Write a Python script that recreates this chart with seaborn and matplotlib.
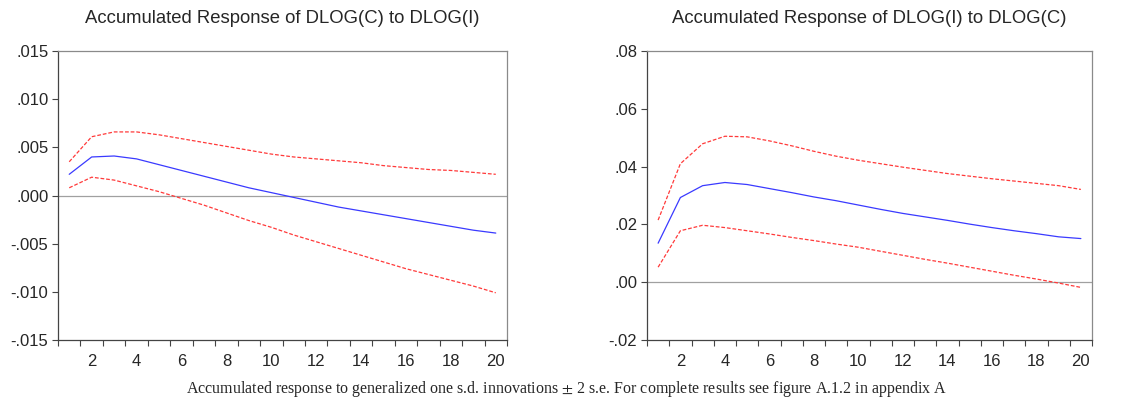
import numpy as np
import pandas as pd
import matplotlib
matplotlib.use("Agg")
import matplotlib.pyplot as plt
from matplotlib.ticker import FuncFormatter, FixedLocator
import seaborn as sns

periods = list(range(1, 21))

# Accumulated response of DLOG(C) to DLOG(I)
c_resp = [0.0022, 0.0040, 0.0041, 0.0038, 0.0032, 0.0026, 0.0020, 0.0014, 0.0008, 0.0003,
          -0.0002, -0.0007, -0.0012, -0.0016, -0.0020, -0.0024, -0.0028, -0.0032, -0.0036, -0.0039]
c_upper = [0.0035, 0.0061, 0.0066, 0.0066, 0.0063, 0.0059, 0.0055, 0.0051, 0.0047, 0.0043,
           0.0040, 0.0038, 0.0036, 0.0034, 0.0031, 0.0029, 0.0027, 0.0026, 0.0024, 0.0022]
c_lower = [0.0008, 0.0019, 0.0016, 0.0010, 0.0004, -0.0003, -0.0010, -0.0018, -0.0026, -0.0033,
           -0.0041, -0.0048, -0.0055, -0.0062, -0.0069, -0.0076, -0.0082, -0.0088, -0.0094, -0.0101]

# Accumulated response of DLOG(I) to DLOG(C)
i_resp = [0.0135, 0.0293, 0.0334, 0.0345, 0.0338, 0.0324, 0.0310, 0.0295, 0.0282, 0.0267,
          0.0252, 0.0238, 0.0226, 0.0214, 0.0201, 0.0189, 0.0178, 0.0168, 0.0157, 0.0151]
i_upper = [0.0215, 0.0410, 0.0479, 0.0505, 0.0503, 0.0489, 0.0472, 0.0453, 0.0436, 0.0422,
           0.0410, 0.0398, 0.0387, 0.0376, 0.0367, 0.0358, 0.0350, 0.0342, 0.0334, 0.0321]
i_lower = [0.0052, 0.0178, 0.0197, 0.0189, 0.0178, 0.0167, 0.0155, 0.0144, 0.0132, 0.0121,
           0.0107, 0.0093, 0.0079, 0.0066, 0.0052, 0.0038, 0.0024, 0.0011, -0.0003, -0.0018]

titles = ["Accumulated Response of DLOG(C) to DLOG(I)",
          "Accumulated Response of DLOG(I) to DLOG(C)"]
y_ticks_left = [-0.015, -0.010, -0.005, 0.000, 0.005, 0.010, 0.015]
y_ticks_right = [-0.02, 0.00, 0.02, 0.04, 0.06, 0.08]
x_labels = list(range(2, 21, 2))
caption = ("Accumulated response to generalized one s.d. innovations $\\pm$ 2 s.e. "
           "For complete results see figure A.1.2 in appendix A")

sns.set_theme(style="white")
plt.rcParams['font.family'] = ['Liberation Sans', 'DejaVu Sans']
plt.rcParams['mathtext.fontset'] = 'stix'

W, H = 1134, 403
fig = plt.figure(figsize=(W / 100, H / 100), dpi=100)
ax1 = fig.add_axes([58 / W, 1 - 340 / H, 449 / W, 289 / H])
ax2 = fig.add_axes([647 / W, 1 - 340 / H, 445 / W, 289 / H])


def fmt_factory(dec):
    def f(v, pos):
        s = f"{v:.{dec}f}"
        s = s.replace("0.", ".", 1)
        if s.startswith("-") and float(s) == 0:
            s = s[1:]
        return s
    return f


panels = [
    (ax1, c_resp, c_upper, c_lower, titles[0], y_ticks_left, 3),
    (ax2, i_resp, i_upper, i_lower, titles[1], y_ticks_right, 2),
]

for ax, resp, up, lo, title, yt, dec in panels:
    df = pd.DataFrame({"period": periods, "resp": resp, "upper": up, "lower": lo})
    ax.axhline(0, color="#a0a0a0", lw=0.9, zorder=1)
    sns.lineplot(data=df, x="period", y="upper", ax=ax, color="#ff3a3a", lw=0.9,
                 linestyle=(0, (3, 1.5)), zorder=3)
    sns.lineplot(data=df, x="period", y="lower", ax=ax, color="#ff3a3a", lw=0.9,
                 linestyle=(0, (3, 1.5)), zorder=3)
    sns.lineplot(data=df, x="period", y="resp", ax=ax, color="#3a3aff", lw=0.9, zorder=4)
    ax.set_xlim(0.5, 20.5)
    ax.set_ylim(yt[0], yt[-1])
    ax.yaxis.set_major_locator(FixedLocator(yt))
    ax.yaxis.set_major_formatter(FuncFormatter(fmt_factory(dec)))
    ax.xaxis.set_major_locator(FixedLocator(x_labels))
    ax.xaxis.set_minor_locator(FixedLocator([p + 0.5 for p in range(0, 21)]))
    ax.tick_params(axis="x", which="major", length=0, pad=10, labelsize=12)
    ax.tick_params(axis="x", which="minor", length=4, width=0.8, color="#444444",
                   direction="out", bottom=True)
    ax.tick_params(axis="y", which="major", length=4, width=0.8, color="#444444",
                   direction="out", left=True, pad=3, labelsize=12)
    ax.set_xlabel("")
    ax.set_ylabel("")
    ax.set_title(title, fontsize=13.3, pad=20)
    for side in ["left", "bottom"]:
        ax.spines[side].set_color("#444444")
        ax.spines[side].set_linewidth(0.9)
    for side in ["top", "right"]:
        ax.spines[side].set_color("#8a8a8a")
        ax.spines[side].set_linewidth(0.9)
    ax.grid(False)

fig.text(0.5, 1 - 389 / H, caption, ha="center", va="center", fontsize=11.5,
         family=["Liberation Serif", "DejaVu Serif"])

fig.savefig("out.png", dpi=100)
